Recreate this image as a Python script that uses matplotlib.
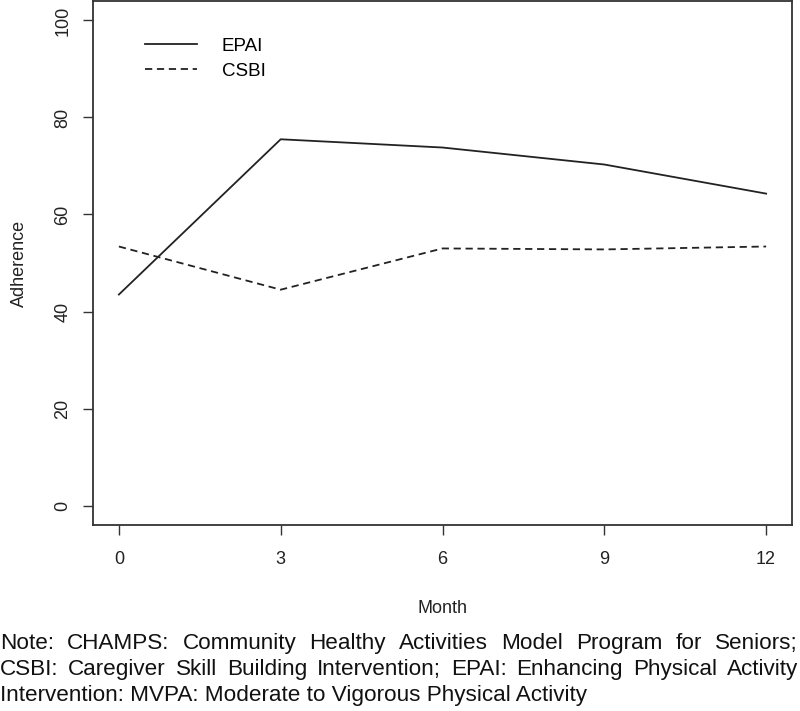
import matplotlib
matplotlib.use("Agg")
import matplotlib.pyplot as plt

plt.rcParams['font.family'] = ['Liberation Sans', 'DejaVu Sans']

# data
months = [0, 3, 6, 9, 12]
epai = [43.5, 75.5, 73.8, 70.3, 64.3]
csbi = [53.4, 44.5, 53.0, 52.8, 53.4]
note_lines = [
    "Note: CHAMPS: Community Healthy Activities Model Program for Seniors;",
    "CSBI: Caregiver Skill Building Intervention; EPAI: Enhancing Physical Activity",
    "Intervention: MVPA: Moderate to Vigorous Physical Activity",
]

fig = plt.figure(figsize=(8, 7.11), dpi=100)
ax = fig.add_axes([93 / 800, 186 / 711, 699 / 800, 524 / 711])

ax.plot(months, epai, color='#222222', lw=1.3, label='EPAI')
ax.plot(months, csbi, color='#222222', lw=1.3, ls=(0, (4, 2.6)), label='CSBI')

ax.set_xlim(-0.48, 12.48)
ax.set_ylim(-4, 104)
ax.set_xticks(months)
ax.set_yticks([0, 20, 40, 60, 80, 100])
ax.tick_params(length=7.5, width=1, color='#333333', labelsize=13, labelcolor='#222222')
ax.tick_params(axis='x', pad=11)
ax.tick_params(axis='y', pad=8)
for lab in ax.get_yticklabels():
    lab.set_rotation(90)
    lab.set_va('center')
for s in ax.spines.values():
    s.set_linewidth(1.3)
    s.set_color('#333333')

ax.set_xlabel('Month', fontsize=13, labelpad=23, color='#222222')
ax.set_ylabel('Adherence', fontsize=13, labelpad=19, color='#222222')

ax.legend(loc='upper left', bbox_to_anchor=(0.05, 0.962), frameon=False,
          fontsize=13.5, handlelength=2.8, handletextpad=1.3, labelspacing=0.42)

# justified note under the plot
fig.canvas.draw()
r = fig.canvas.get_renderer()
fs = 16.2
ys = [649, 675, 701]
for i, line in enumerate(note_lines):
    y = 1 - ys[i] / 711
    words = line.split(' ')
    if i == len(note_lines) - 1:
        fig.text(0.0, y, line, fontsize=fs, va='baseline', ha='left', color='#111111')
        continue
    texts = [fig.text(0, y, w, fontsize=fs, va='baseline', ha='left', color='#111111') for w in words]
    widths = [t.get_window_extent(r).width for t in texts]
    gap = (798 - sum(widths)) / (len(words) - 1)
    x = 0.0
    for t, w in zip(texts, widths):
        t.set_x(x / 800)
        x += w + gap

fig.savefig('out.png', dpi=100)
